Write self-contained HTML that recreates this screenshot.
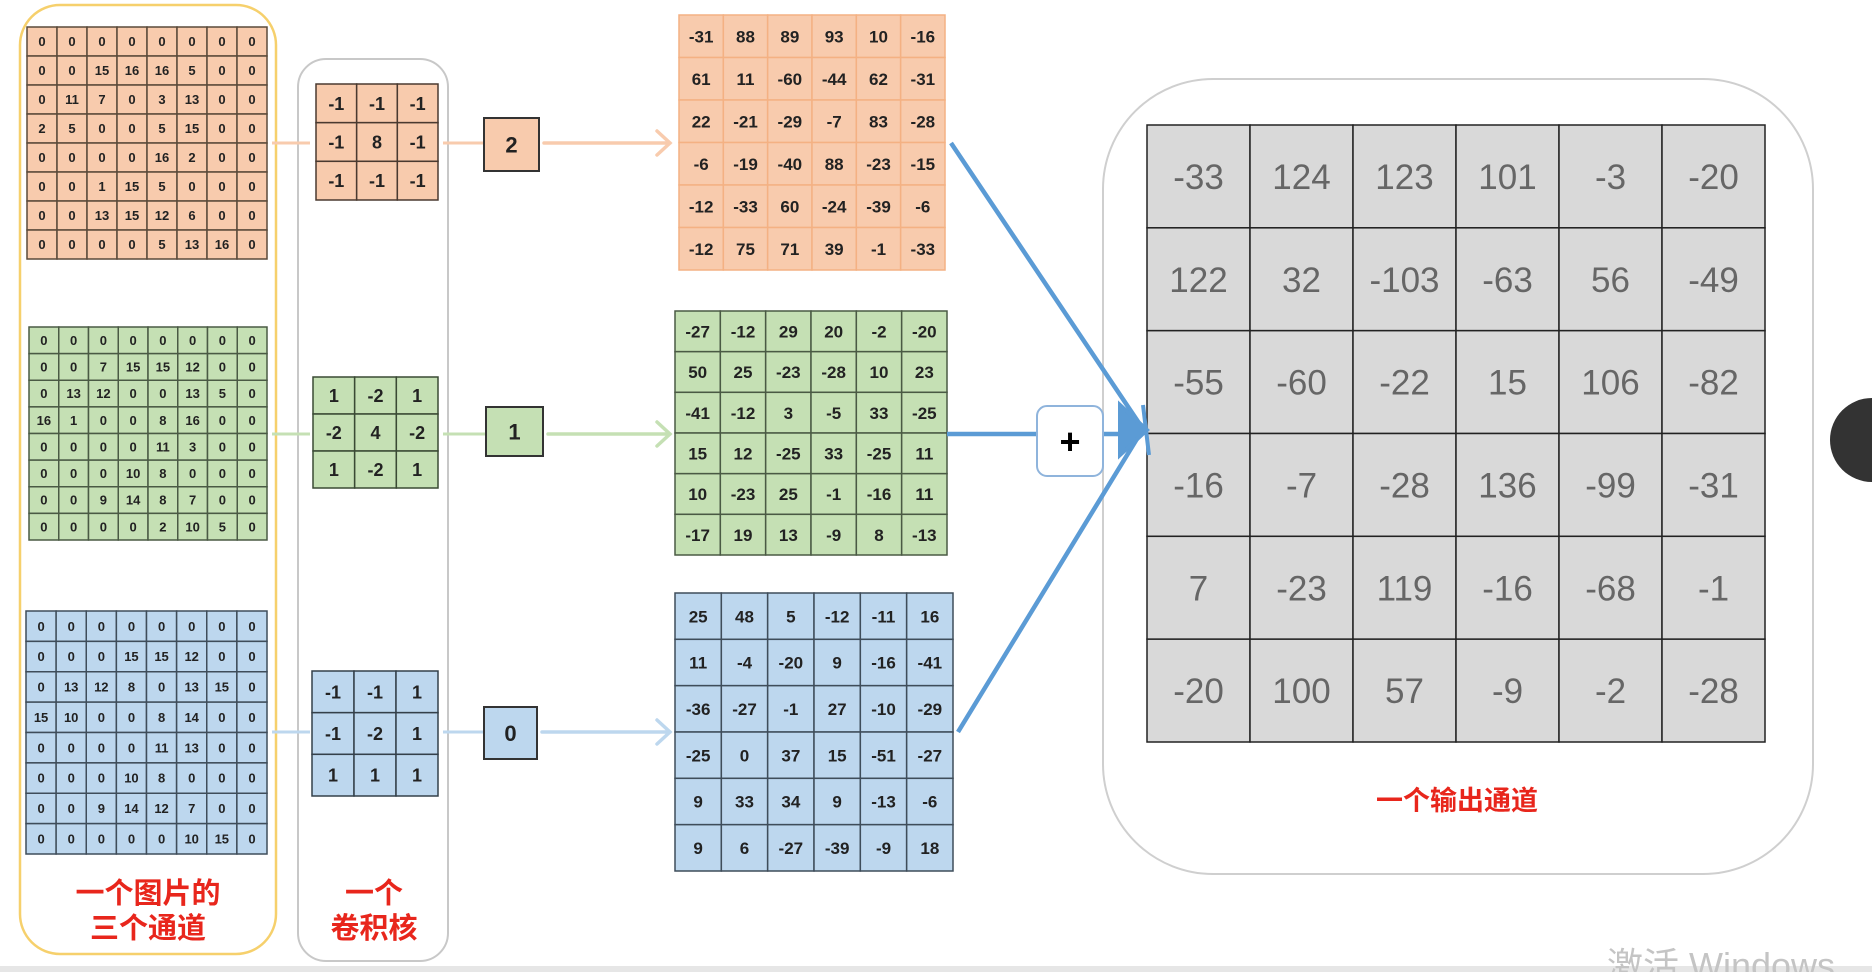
<!DOCTYPE html>
<html><head><meta charset="utf-8">
<style>
html,body{margin:0;padding:0;background:#fff;}
body{width:1872px;height:972px;overflow:hidden;position:relative;font-family:"Liberation Sans","Noto Sans CJK SC",sans-serif;}
svg{position:absolute;left:0;top:0;}
</style></head>
<body>
<svg id="diagram" width="1872" height="972" viewBox="0 0 1872 972" xmlns="http://www.w3.org/2000/svg">
  <rect x="20" y="5" width="256" height="949" rx="40" fill="none" stroke="#f6d06c" stroke-width="2.5"/>
  <rect x="298" y="59" width="150" height="902" rx="28" fill="none" stroke="#c8c8c8" stroke-width="2"/>
  <rect x="1103" y="79" width="710" height="795" rx="110" fill="none" stroke="#cfcfcf" stroke-width="2"/>
  <rect x="0" y="966" width="1872" height="6" fill="#e6e6e6"/>
  <g id="layer"></g>
  <text x="148" y="903" text-anchor="middle" font-size="29" font-weight="bold" fill="#e8261c" font-family="Liberation Sans, Noto Sans CJK SC, sans-serif">一个图片的</text>
  <text x="148" y="938" text-anchor="middle" font-size="29" font-weight="bold" fill="#e8261c" font-family="Liberation Sans, Noto Sans CJK SC, sans-serif">三个通道</text>
  <text x="374" y="903" text-anchor="middle" font-size="29" font-weight="bold" fill="#e8261c" font-family="Liberation Sans, Noto Sans CJK SC, sans-serif">一个</text>
  <text x="374" y="938" text-anchor="middle" font-size="29" font-weight="bold" fill="#e8261c" font-family="Liberation Sans, Noto Sans CJK SC, sans-serif">卷积核</text>
  <text x="1457" y="810" text-anchor="middle" font-size="27" font-weight="bold" fill="#e8261c" font-family="Liberation Sans, Noto Sans CJK SC, sans-serif">一个输出通道</text>
  <circle cx="1872" cy="440" r="42" fill="#333"/>
  <text x="1607" y="978" font-size="36" fill="#c4c4c4" font-family="Liberation Sans, Noto Sans CJK SC, sans-serif">激活 Windows</text>
</svg>
<script>
const inputR = [[0,0,0,0,0,0,0,0],[0,0,15,16,16,5,0,0],[0,11,7,0,3,13,0,0],[2,5,0,0,5,15,0,0],[0,0,0,0,16,2,0,0],[0,0,1,15,5,0,0,0],[0,0,13,15,12,6,0,0],[0,0,0,0,5,13,16,0]];
const inputG = [[0,0,0,0,0,0,0,0],[0,0,7,15,15,12,0,0],[0,13,12,0,0,13,5,0],[16,1,0,0,8,16,0,0],[0,0,0,0,11,3,0,0],[0,0,0,10,8,0,0,0],[0,0,9,14,8,7,0,0],[0,0,0,0,2,10,5,0]];
const inputB = [[0,0,0,0,0,0,0,0],[0,0,0,15,15,12,0,0],[0,13,12,8,0,13,15,0],[15,10,0,0,8,14,0,0],[0,0,0,0,11,13,0,0],[0,0,0,10,8,0,0,0],[0,0,9,14,12,7,0,0],[0,0,0,0,0,10,15,0]];
const kernelR = [[-1,-1,-1],[-1,8,-1],[-1,-1,-1]];
const kernelG = [[1,-2,1],[-2,4,-2],[1,-2,1]];
const kernelB = [[-1,-1,1],[-1,-2,1],[1,1,1]];
const biasValues = [2,1,0];
const featR = [[-31,88,89,93,10,-16],[61,11,-60,-44,62,-31],[22,-21,-29,-7,83,-28],[-6,-19,-40,88,-23,-15],[-12,-33,60,-24,-39,-6],[-12,75,71,39,-1,-33]];
const featG = [[-27,-12,29,20,-2,-20],[50,25,-23,-28,10,23],[-41,-12,3,-5,33,-25],[15,12,-25,33,-25,11],[10,-23,25,-1,-16,11],[-17,19,13,-9,8,-13]];
const featB = [[25,48,5,-12,-11,16],[11,-4,-20,9,-16,-41],[-36,-27,-1,27,-10,-29],[-25,0,37,15,-51,-27],[9,33,34,9,-13,-6],[9,6,-27,-39,-9,18]];
const outputSum = [[-33,124,123,101,-3,-20],[122,32,-103,-63,56,-49],[-55,-60,-22,15,106,-82],[-16,-7,-28,136,-99,-31],[7,-23,119,-16,-68,-1],[-20,100,57,-9,-2,-28]];

const NS='http://www.w3.org/2000/svg';
const layer=document.getElementById('layer');
function mk(tag,attrs,parent){const e=document.createElementNS(NS,tag);for(const k in attrs)e.setAttribute(k,attrs[k]);(parent||layer).appendChild(e);return e;}

function grid(data,x0,y0,x1,y1,fill,stroke,fs,color,name,weight){
  const g=mk('g',{});
  
  
  const rows=data.length,cols=data[0].length,cw=(x1-x0)/cols,ch=(y1-y0)/rows;
  data.forEach((row,i)=>row.forEach((v,j)=>{
    const r=mk('rect',{x:x0+j*cw,y:y0+i*ch,width:cw,height:ch,fill:fill,stroke:stroke,'stroke-width':1.5},g);
    
    
    const t=mk('text',{x:x0+(j+0.5)*cw,y:y0+(i+0.5)*ch+fs*0.36,'text-anchor':'middle','font-size':fs,'font-weight':weight||'bold',fill:color,'font-family':'Liberation Sans, sans-serif'},g);
    t.textContent=String(v);
    
    
  }));
}
const OR='#f8cbad',GR='#c5e0b4',BL='#bdd7ee';
grid(inputR,27,27,267,259,OR,'#5a4a3a',13,'#222','input-channel-2');
grid(inputG,29,327,267,540,GR,'#4a5a44',13,'#222','input-channel-1');
grid(inputB,26,611,267,854,BL,'#3f4d5a',13,'#222','input-channel-0');
grid(kernelR,316,84,438,200,OR,'#4a3a30',18,'#222','kernel-2');
grid(kernelG,313,377,438,488,GR,'#3a4a34',18,'#222','kernel-1');
grid(kernelB,312,671,438,796,BL,'#34404a',18,'#222','kernel-0');
grid(featR,679,15,945,270,OR,'#f4b183',17,'#222','feature-map-2');
grid(featG,675,311,947,555,GR,'#4a5a44',17,'#222','feature-map-1');
grid(featB,675,593,953,871,BL,'#3f4d5a',17,'#222','feature-map-0');
grid(outputSum,1147,125,1765,742,'#d9d9d9','#222',35,'#666','output-grid','normal');

const rowsY=[143,434,732];
const lineCols=['#f8cbad','#c5e0b4','#bdd7ee'];
const fills=[OR,GR,BL];
const biasBox=[[484,118,55,53],[486,407,57,49],[484,707,53,52]];
rowsY.forEach((y,i)=>{
  let l=mk('line',{x1:272,y1:y,x2:310,y2:y,stroke:lineCols[i],'stroke-width':3});
  
  
  l=mk('line',{x1:443,y1:y,x2:biasBox[i][0],y2:y,stroke:lineCols[i],'stroke-width':3});
  
  
  const b=biasBox[i];
  const r=mk('rect',{x:b[0],y:b[1],width:b[2],height:b[3],fill:fills[i],stroke:'#333','stroke-width':2});
  
  
  const t=mk('text',{x:b[0]+b[2]/2,y:b[1]+b[3]/2+8,'text-anchor':'middle','font-size':22,'font-weight':'bold',fill:'#222','font-family':'Liberation Sans, sans-serif'});
  t.textContent=String(biasValues[i]);
  
  
  const ax=b[0]+b[2]+5;
  const a=mk('path',{d:`M${ax} ${y} L670 ${y} M657 ${y-12} L670 ${y} L657 ${y+12}`,fill:'none',stroke:lineCols[i],'stroke-width':3.5,'stroke-linecap':'round'});
  
  
});
const BLUE='#5b9bd5';
let p=mk('path',{d:'M951 143 L1143 429 M947 434 L1037 434 M1104 434 L1143 434 M958 732 L1143 429',fill:'none',stroke:BLUE,'stroke-width':4.5});


p=mk('path',{d:'M1120 405 L1147 430 L1120 455 Z M1143 405 L1149 455',fill:BLUE,stroke:BLUE,'stroke-width':4});


const pb=mk('rect',{x:1037,y:406,width:66,height:70,rx:10,fill:'#fff',stroke:'#8fb4dc','stroke-width':2});


const pt=mk('text',{x:1070,y:454,'text-anchor':'middle','font-size':36,'font-weight':'bold',fill:'#000','font-family':'Liberation Sans, sans-serif'});
pt.textContent='+';


</script>
</body></html>
